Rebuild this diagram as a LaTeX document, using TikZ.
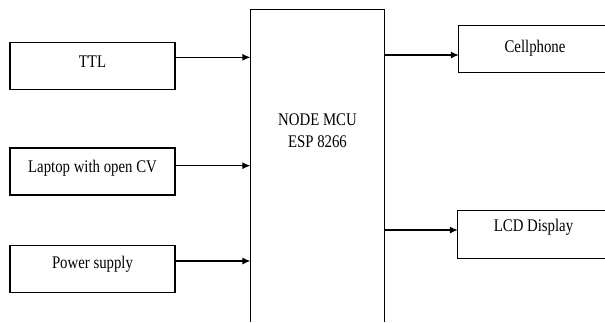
\documentclass[tikz,border=0pt]{standalone}
\usepackage{fontspec}
\setmainfont{Liberation Serif}
\usepackage{graphicx}
\usetikzlibrary{arrows.meta}
\newcommand{\tx}[1]{\scalebox{1}[1.2]{#1}}
\begin{document}
\begin{tikzpicture}[x=1pt,y=-1pt,
  blk/.style={draw, line width=1.1pt, minimum width=165pt, minimum height=47pt, inner sep=0pt},
  lbl/.style={anchor=base, inner sep=0pt, font=\fontsize{14.8}{18}\selectfont},
  arr/.style={-{Latex[length=8pt,width=7pt]}, line width=1.1pt},
  edge/.style={line width=1.1pt}]
\useasboundingbox (0,0) rectangle (605,322);
% left boxes
\node[blk] (ttl) at (92.5,65.7) {};
\node[blk] (lap) at (92.5,171.5) {};
\node[blk] (pwr) at (92.5,269.3) {};
\node[lbl] (tttl) at (92.5,67.7) {\tx{TTL}};
\node[lbl] (tlap) at (92.5,172.3) {\tx{Laptop with open CV}};
\node[lbl] (tpwr) at (92.5,268.3) {\tx{Power supply}};
% central block (open at the bottom)
\node[minimum width=133.5pt, minimum height=312pt, inner sep=0pt] (mcu) at (317.3,166) {};
\draw[edge] (mcu.south west) -- (mcu.north west) -- (mcu.north east) -- (mcu.south east);
\node[lbl, align=center, font=\fontsize{14.8}{21.5}\selectfont] (tmcu) at (317.5,147) {\tx{NODE MCU}\\\tx{ESP 8266}};
% right boxes (cut by the right edge)
\node[minimum width=152pt, minimum height=46pt, inner sep=0pt] (cell) at (535,49) {};
\draw[edge] (cell.north east) -- (cell.north west) -- (cell.south west) -- (cell.south east);
\node[minimum width=152pt, minimum height=47pt, inner sep=0pt] (lcd) at (534,234.6) {};
\draw[edge] (lcd.north east) -- (lcd.north west) -- (lcd.south west) -- (lcd.south east);
\node[lbl] (tcell) at (535,52) {\tx{Cellphone}};
\node[lbl] (tlcd) at (533.5,231) {\tx{LCD Display}};
% connectors
\draw[arr] ([yshift=8.4pt]ttl.east) -- ([yshift=8.4pt]ttl.east -| mcu.west);
\draw[arr] ([yshift=5.8pt]lap.east) -- ([yshift=5.8pt]lap.east -| mcu.west);
\draw[arr] ([yshift=8.3pt]pwr.east) -- ([yshift=8.3pt]pwr.east -| mcu.west);
\draw[arr] (mcu.east |- 0,55) -- (cell.west |- 0,55);
\draw[arr] (mcu.east |- 0,230) -- (lcd.west |- 0,230);
\end{tikzpicture}
\end{document}
